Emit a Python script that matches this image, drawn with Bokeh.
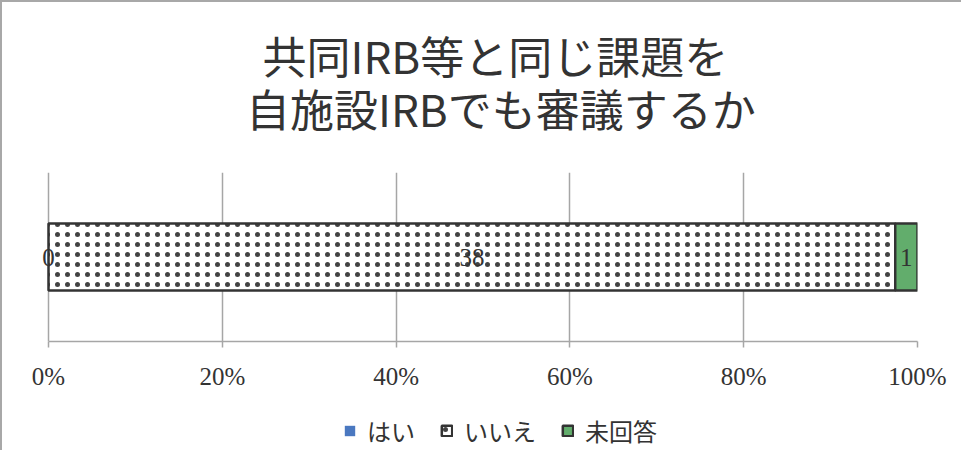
from bokeh.plotting import figure
from bokeh.layouts import column
from bokeh.models import (ColumnDataSource, Range1d, FixedTicker, NumeralTickFormatter,
                          Legend, LegendItem, LabelSet)
from bokeh.core.properties import value
from bokeh.embed import file_html
from bokeh.resources import INLINE

# ---- data ----
categories = ["はい", "いいえ", "未回答"]
counts = [0, 38, 1]
bar_colors = ["#4a78c0", "#ffffff", "#62ad6c"]
title_lines = ["共同IRB等と同じ課題を", "自施設IRBでも審議するか"]
x_ticks = [0, 0.2, 0.4, 0.6, 0.8, 1.0]

total = sum(counts)
lefts, rights = [], []
acc = 0
for c in counts:
    lefts.append(acc / total)
    acc += c
    rights.append(acc / total)
centers = [(l + r) / 2 for l, r in zip(lefts, rights)]

serif = "Liberation Serif"
jp = "Noto Sans CJK JP"
grid_col = "#a6a6a6"
edge_col = "#333333"
text_col = "#333333"
W = 959

def bar_style(i):
    cat = categories[i]
    kw = dict(fill_color=bar_colors[i])
    if cat == "はい":
        kw.update(line_color=bar_colors[i], line_width=0)
    else:
        kw.update(line_color=edge_col, line_width=2.5)
    if cat == "いいえ":
        kw.update(hatch_pattern="dot", hatch_scale=10, hatch_color="#222222",
                  hatch_weight=0.1, hatch_alpha=0.85)
    return kw

def bare(height):
    f = figure(width=W, height=height, output_backend="svg", toolbar_location=None,
               x_range=Range1d(0, W), y_range=Range1d(0, height), min_border=0)
    f.outline_line_color = None
    f.axis.visible = False
    f.grid.visible = False
    f.background_fill_color = "white"
    f.border_fill_color = "white"
    return f

# ---------------- title strip ----------------
tf = bare(157)
tsrc = ColumnDataSource(dict(x=[500, 506], y=[105, 52], t=title_lines))
tf.text(x="x", y="y", text="t", source=tsrc, text_align="center", text_baseline="middle",
        text_font=value(jp), text_font_size="44px", text_color=text_col)

# ---------------- main chart ----------------
p = figure(width=W, height=248, output_backend="svg", toolbar_location=None,
           x_range=Range1d(-0.015, 1.0), y_range=Range1d(-0.5, 0.5),
           min_border_left=33, min_border_right=44, min_border_top=13, min_border_bottom=66)
p.outline_line_color = None
p.background_fill_color = "white"
p.border_fill_color = "white"

p.yaxis.visible = False
p.ygrid.visible = False
p.xaxis.bounds = (0, 1)
p.xaxis.ticker = FixedTicker(ticks=x_ticks)
p.xaxis.formatter = NumeralTickFormatter(format="0%")
p.xaxis.axis_line_color = grid_col
p.xaxis.axis_line_width = 1.5
p.xaxis.major_tick_line_color = grid_col
p.xaxis.major_tick_line_width = 1.5
p.xaxis.major_tick_in = 0
p.xaxis.major_tick_out = 6
p.xaxis.minor_tick_line_color = None
p.xaxis.major_label_text_font = serif
p.xaxis.major_label_text_font_size = "25px"
p.xaxis.major_label_text_color = text_col
p.xaxis.major_label_standoff = 15
p.xgrid.ticker = FixedTicker(ticks=x_ticks)
p.xgrid.grid_line_color = grid_col
p.xgrid.grid_line_width = 1.5

for i, cat in enumerate(categories):
    src = ColumnDataSource(dict(y=[0], left=[lefts[i]], right=[rights[i]]))
    p.hbar(y="y", left="left", right="right", height=0.396, source=src, **bar_style(i))

lab_src = ColumnDataSource(dict(x=centers, y=[0, 0, 0], t=[str(c) for c in counts]))
p.add_layout(LabelSet(x="x", y="y", text="t", source=lab_src, text_align="center",
                      text_baseline="middle", text_font=serif, text_font_size="25px",
                      text_color=text_col))

# ---------------- legend strip ----------------
lg = bare(43)
lg_renderers = []
for i, cat in enumerate(categories):
    src = ColumnDataSource(dict(y=[0], left=[lefts[i]], right=[rights[i]]))
    kw = bar_style(i)
    if cat != "はい":
        kw["line_width"] = 2.5
    r = lg.hbar(y="y", left="left", right="right", height=1, source=src, **kw)
    r.visible = False   # legend swatch only
    lg_renderers.append(r)

legend = Legend(items=[LegendItem(label=c, renderers=[r]) for c, r in zip(categories, lg_renderers)],
                orientation="horizontal", location=(308, 2),
                label_text_font=jp, label_text_font_size="24px", label_text_color=text_col,
                glyph_width=13, glyph_height=13, label_standoff=11, spacing=25, label_height=20,
                inactive_fill_alpha=0,
                border_line_color=None, background_fill_alpha=0, padding=0, margin=0)
lg.add_layout(legend, "center")

page = column(tf, p, lg, spacing=0,
              styles={"border-top": "2px solid #a8a8a8", "border-left": "2px solid #a8a8a8"})

open("out.html", "w").write(file_html(page, INLINE))
